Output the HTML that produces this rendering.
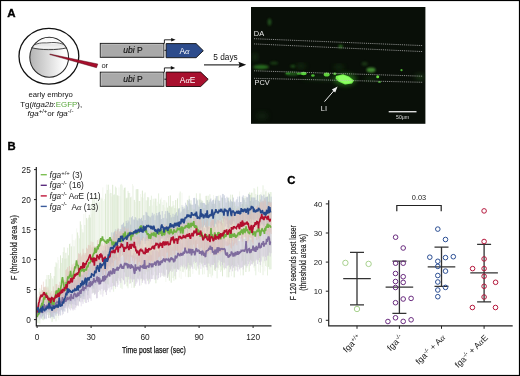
<!DOCTYPE html>
<html><head><meta charset="utf-8"><style>
html,body{margin:0;padding:0;background:#fff;}
body{width:520px;height:376px;overflow:hidden;}
svg{display:block;font-family:"Liberation Sans", sans-serif;will-change:transform;}
</style></head><body>
<svg width="520" height="376" viewBox="0 0 520 376" font-family='"Liberation Sans", sans-serif' fill="#222">
<rect x="0" y="0" width="520" height="376" fill="#fff"/>
<rect x="0.5" y="0.5" width="519" height="375" fill="none" stroke="#000" stroke-width="1.2"/>
<text x="7.2" y="17.4" font-size="11.5" font-weight="bold" fill="#000" stroke="#000" stroke-width="0.35">A</text>
<text x="7.4" y="150.3" font-size="11.3" font-weight="bold" fill="#000" stroke="#000" stroke-width="0.35">B</text>
<text x="287.2" y="183.9" font-size="11.3" font-weight="bold" fill="#000" stroke="#000" stroke-width="0.35">C</text>
<defs><linearGradient id="yolk" x1="0" x2="1" y1="0" y2="0"><stop offset="0" stop-color="#b4b4b4"/><stop offset="0.85" stop-color="#fbfbfb"/><stop offset="1" stop-color="#ffffff"/></linearGradient><linearGradient id="cap" gradientUnits="userSpaceOnUse" x1="0" x2="0" y1="37" y2="50"><stop offset="0" stop-color="#f4f4f4"/><stop offset="0.45" stop-color="#fdfdfd"/><stop offset="0.6" stop-color="#e4e4e4"/><stop offset="0.8" stop-color="#f2f2f2"/><stop offset="1" stop-color="#d6d6d6"/></linearGradient></defs>
<ellipse cx="48.9" cy="56.3" rx="29.9" ry="27.9" fill="#fff" stroke="#111" stroke-width="1.3"/>
<clipPath id="cellc"><ellipse cx="49.2" cy="57.3" rx="19.4" ry="20"/></clipPath>
<ellipse cx="49.2" cy="57.3" rx="19.4" ry="20" fill="url(#yolk)"/>
<g clip-path="url(#cellc)"><path d="M20 30H80V47.8C70 48 66 48 66.8 47.8C57 50.2 40 50.2 31.6 47.6H20Z" fill="url(#cap)"/></g>
<path d="M34.6 44.6C38 43.4 41 42.8 44 42.9C48 43.1 50 42.4 54 42.5C58 42.6 61 43.4 63.6 44.4" fill="none" stroke="#3a3a3a" stroke-width="0.85"/>
<path d="M31.4 47.6C40 50.3 57 50.3 66.9 47.8" fill="none" stroke="#3a3a3a" stroke-width="0.95"/>
<ellipse cx="49.2" cy="57.3" rx="19.4" ry="20" fill="none" stroke="#2a2a2a" stroke-width="1.05"/>
<path d="M49.8 54.0 L97.8 64.0 L96.5 67.7 L49.9 54.6 Z" fill="#a80d2c" stroke="#4a0610" stroke-width="0.45" stroke-linejoin="round"/>
<text x="50.6" y="97" text-anchor="middle" font-size="7.7" fill="#111">early embryo</text>
<text x="51.2" y="107" text-anchor="middle" font-size="7.9" fill="#111">Tg(<tspan font-style="italic">itga2b</tspan>:<tspan fill="#5aa83c">EGFP</tspan>),</text>
<text x="50.5" y="115.8" text-anchor="middle" font-size="8" fill="#111"><tspan font-style="italic">fga</tspan><tspan font-size="6" dy="-3">+/+</tspan><tspan dy="3">or </tspan><tspan font-style="italic">fga</tspan><tspan font-size="6" dy="-3">-/-</tspan></text>
<rect x="100.3" y="43.4" width="63.5" height="13.9" fill="#a9a9a9" stroke="#1e1e1e" stroke-width="1"/>
<path d="M101.3 56.7V44.4H162.8V56.7" fill="none" stroke="#bcbcbc" stroke-width="0.9"/>
<text x="123.2" y="53.2" font-size="8.5" fill="#111" stroke="#111" stroke-width="0.15"><tspan font-style="italic">ubi</tspan> P</text>
<path d="M164.4 50.3H166.5" stroke="#111" stroke-width="1"/>
<rect x="100.3" y="72.2" width="63.5" height="14.1" fill="#a9a9a9" stroke="#1e1e1e" stroke-width="1"/>
<path d="M101.3 85.7V73.2H162.8V85.7" fill="none" stroke="#bcbcbc" stroke-width="0.9"/>
<text x="123.2" y="82.2" font-size="8.5" fill="#111" stroke="#111" stroke-width="0.15"><tspan font-style="italic">ubi</tspan> P</text>
<path d="M164.4 79.2H166.5" stroke="#111" stroke-width="1"/>
<path d="M166.1 43.6H196.1L203.3 50.7L196.1 57.7H166.1Z" fill="#2d4c8c" stroke="#111" stroke-width="0.9"/>
<path d="M166.1 72.1H200.7L208.2 79.3L200.7 86.5H166.1Z" fill="#a8102e" stroke="#1a0508" stroke-width="0.9"/>
<text x="179.4" y="53.6" font-size="8.4" fill="#fff">A<tspan font-family="Liberation Serif" font-style="italic">&#945;</tspan></text>
<text x="179.8" y="82.5" font-size="8.4" fill="#fff">A<tspan font-family="Liberation Serif" font-style="italic">&#945;</tspan>E</text>
<path d="M164.4 43.5V39.8H172" fill="none" stroke="#111" stroke-width="0.9"/><path d="M171.2 37.9L175.6 39.8L171.2 41.6Z" fill="#111"/>
<path d="M164.4 72.2V67.9H171.6" fill="none" stroke="#111" stroke-width="0.9"/><path d="M170.8 66.1L175.2 67.9L170.8 69.7Z" fill="#111"/>
<text x="101.4" y="67.6" font-size="7.6" fill="#222">or</text>
<text x="213.3" y="60.0" font-size="8.3" fill="#111">5 days</text>
<path d="M204 64.8H240" stroke="#333" stroke-width="1.3"/><path d="M238.4 61.8L246.2 64.8L238.4 67.8L239.6 64.8Z" fill="#111"/>
<defs><filter id="b1" x="-50%" y="-50%" width="200%" height="200%"><feGaussianBlur stdDeviation="1.2"/></filter><filter id="b2" x="-50%" y="-50%" width="200%" height="200%"><feGaussianBlur stdDeviation="2.5"/></filter><filter id="b05" x="-50%" y="-50%" width="200%" height="200%"><feGaussianBlur stdDeviation="0.6"/></filter><clipPath id="mc"><rect x="251" y="7" width="174.4" height="116.8"/></clipPath></defs>
<rect x="251" y="7" width="174.4" height="116.8" fill="#090f08"/>
<g clip-path="url(#mc)">
<ellipse cx="269.5" cy="22" rx="1.8" ry="3.5" fill="#2f6a25" opacity="0.7" filter="url(#b1)"/>
<ellipse cx="255" cy="57" rx="2.5" ry="4" fill="#1e4a18" opacity="0.6" filter="url(#b2)"/>
<ellipse cx="261" cy="67" rx="8" ry="2.2" fill="#2f7a24" opacity="0.85" filter="url(#b1)"/>
<ellipse cx="292.8" cy="66.2" rx="2.5" ry="1.5" fill="#2a6a20" opacity="0.7" filter="url(#b1)"/>
<ellipse cx="274" cy="63" rx="4" ry="1.6" fill="#245a1c" opacity="0.6" filter="url(#b1)"/>
<ellipse cx="300.8" cy="66" rx="5" ry="2" fill="#1f4a18" opacity="0.6" filter="url(#b2)"/>
<ellipse cx="338.8" cy="67.1" rx="5" ry="2" fill="#1f4a18" opacity="0.6" filter="url(#b2)"/>
<ellipse cx="371" cy="70" rx="4.5" ry="2.4" fill="#4a9a38" opacity="0.9" filter="url(#b1)"/>
<ellipse cx="364.6" cy="63.7" rx="3" ry="2" fill="#2a5a22" opacity="0.5" filter="url(#b1)"/>
<ellipse cx="292" cy="73.8" rx="7" ry="1.8" fill="#2a7a20" opacity="0.7" filter="url(#b1)"/>
<ellipse cx="340.6" cy="46.4" rx="2.2" ry="1.6" fill="#3a8a2a" opacity="0.8" filter="url(#b1)"/>
<ellipse cx="262" cy="116" rx="6" ry="4" fill="#143014" opacity="0.5" filter="url(#b2)"/>
<ellipse cx="420" cy="77" rx="5" ry="3" fill="#2a5a20" opacity="0.5" filter="url(#b2)"/>
<ellipse cx="330" cy="78" rx="28" ry="3" fill="#143a12" opacity="0.5" filter="url(#b2)"/>
<ellipse cx="372" cy="79" rx="8" ry="2" fill="#1a4a15" opacity="0.5" filter="url(#b2)"/>
<ellipse cx="303.6" cy="73.5" rx="3" ry="1.7" fill="#56d23a" filter="url(#b05)"/>
<ellipse cx="299" cy="73.6" rx="2.5" ry="1.2" fill="#3a9a2a" filter="url(#b05)"/>
<ellipse cx="312.9" cy="75.5" rx="1.8" ry="1.2" fill="#48b830" filter="url(#b05)"/>
<ellipse cx="326.7" cy="74.6" rx="3" ry="2" fill="#5ed23a" filter="url(#b05)"/>
<ellipse cx="334.8" cy="73.7" rx="1.5" ry="1.3" fill="#50c034" filter="url(#b05)"/>
<ellipse cx="377.7" cy="76.7" rx="1.5" ry="1.5" fill="#66dd40" filter="url(#b05)"/>
<ellipse cx="379.5" cy="82" rx="1.6" ry="1.1" fill="#3c9a2a" filter="url(#b05)"/>
<ellipse cx="401.5" cy="70.2" rx="1.1" ry="1.1" fill="#4cb030" filter="url(#b05)"/>
<ellipse cx="288" cy="73.5" rx="2.5" ry="1" fill="#2a7a20" filter="url(#b05)"/>
<ellipse cx="345" cy="79.5" rx="11" ry="6" fill="#3fbf28" opacity="0.45" filter="url(#b2)"/>
<path d="M336 76L343 74.2L349 76.5L354 80.5L352 83.5L345 84.6L338.5 81.5L335.5 78.5Z" fill="#74f04c" filter="url(#b05)"/>
<path d="M337.5 76.6L343.5 75.2L349 77.6L352.5 80.8L350.5 82.8L345 83.6L339.5 80.8Z" fill="#8cff62" filter="url(#b05)"/>
<path d="M254 38.7L423 45.6" stroke="#b8b8b8" stroke-width="0.9" stroke-dasharray="1 0.9" opacity="0.85"/>
<path d="M254 43.9L423 51.6" stroke="#b8b8b8" stroke-width="0.9" stroke-dasharray="1 0.9" opacity="0.85"/>
<path d="M254 70.8L423 76.2" stroke="#b8b8b8" stroke-width="0.9" stroke-dasharray="1 0.9" opacity="0.85"/>
<path d="M254 78.3L423 82.3" stroke="#b8b8b8" stroke-width="0.9" stroke-dasharray="1 0.9" opacity="0.85"/>
</g>
<text x="253.8" y="36.1" font-size="7.4" fill="#e8e8e8">DA</text>
<text x="254.5" y="84.8" font-size="7.4" fill="#e8e8e8">PCV</text>
<text x="320.8" y="110.5" font-size="7.4" fill="#e8e8e8">LI</text>
<path d="M324.5 101.6L334.5 90" stroke="#eee" stroke-width="1"/><path d="M337.6 86.6L331.8 89.6L335.2 92.4Z" fill="#eee"/>
<path d="M388.7 111.7H416.5" stroke="#ddd" stroke-width="1.4"/>
<text x="402.6" y="118.6" text-anchor="middle" font-size="5.2" fill="#ddd">50&#956;m</text>
<path d="M37.1 293.6V322.1M38.9 290.7V312.4M40.7 289.5V315.1M45.2 291.2V310.8M51.5 275.9V322.1M53.3 279.3V319.3M57.8 257.2V317.9M58.7 260.0V319.6M59.6 268.4V303.2M70.4 243.4V305.1M72.2 234.1V299.6M73.1 240.0V295.7M74.9 240.3V301.3M75.8 238.5V306.9M76.7 228.4V300.5M78.5 235.5V305.4M82.1 229.0V297.9M83.9 214.0V291.1M85.7 212.0V285.3M87.5 219.6V286.3M92.0 213.8V286.1M93.8 208.0V283.5M95.6 202.4V292.1M96.5 194.8V289.1M97.4 201.1V293.1M98.3 194.9V279.3M100.1 198.5V294.4M101.0 197.2V280.6M102.8 187.4V282.0M103.7 200.8V293.8M104.6 199.1V282.5M106.4 184.5V291.8M109.1 193.7V286.7M110.0 189.4V276.9M111.8 196.6V275.3M119.0 187.4V276.1M119.9 196.0V284.5M121.7 183.8V288.9M122.6 185.5V289.2M123.5 189.8V280.9M129.8 193.1V274.9M131.6 196.5V287.9M132.5 184.0V279.2M133.4 185.7V287.8M135.2 202.0V276.9M138.8 201.0V281.3M140.6 194.0V280.2M141.5 197.1V285.2M143.3 197.8V273.8M144.2 193.8V279.9M146.0 200.4V278.6M152.3 205.5V276.0M154.1 201.7V266.9M157.7 201.8V267.4M161.3 197.7V276.6M162.2 201.8V269.2M164.9 207.4V268.9M165.8 200.3V282.0M176.6 208.3V267.4M179.3 193.3V277.6M181.1 207.1V279.0M182.0 192.8V267.5M183.8 205.2V272.4M185.6 209.3V276.6M186.5 208.2V266.3M192.8 204.1V273.9M195.5 204.7V270.1M197.3 199.3V263.5M198.2 204.9V267.9M200.9 198.5V265.5M204.5 208.1V274.2M205.4 196.1V266.8M209.0 200.6V271.4M210.8 205.9V276.6M211.7 203.4V277.8M213.5 195.0V261.8M216.2 204.8V263.3M218.9 194.8V270.0M225.2 205.7V264.3M226.1 200.0V262.7M227.9 201.5V262.0M231.5 206.0V276.2M236.0 204.4V260.4M239.6 191.5V268.3M240.5 204.9V275.3M241.4 204.1V262.5M244.1 201.9V264.8M248.6 193.0V271.9M254.9 188.8V271.1M256.7 195.9V260.5M258.5 201.3V271.8M261.2 192.2V260.2M262.1 201.6V267.0M263.9 194.2V263.3M264.8 189.1V271.4M266.6 190.7V267.0" stroke="#d3e4c6" stroke-width="1.0" opacity="0.28" fill="none"/>
<path d="M38.0 298.3V323.0M46.1 279.4V313.6M48.8 275.0V318.1M49.7 279.0V315.1M50.6 273.0V316.9M54.2 276.0V312.7M55.1 266.8V305.2M60.5 255.4V306.8M62.3 258.1V300.4M64.1 247.4V300.9M65.0 258.7V299.9M65.9 252.8V305.8M68.6 255.3V306.1M69.5 243.9V304.0M71.3 246.4V308.1M77.6 232.5V298.7M80.3 221.3V297.9M83.0 232.4V296.2M86.6 218.0V290.9M89.3 214.8V288.4M90.2 217.5V283.4M92.9 198.2V292.7M105.5 193.7V283.5M108.2 184.7V284.6M110.9 193.0V276.2M112.7 184.8V283.1M117.2 195.2V283.1M118.1 195.8V278.0M124.4 187.8V272.3M126.2 198.3V277.4M127.1 197.7V286.3M128.9 192.9V279.5M130.7 197.3V283.2M134.3 199.9V287.7M137.0 189.0V269.7M137.9 189.1V277.9M139.7 201.0V275.5M142.4 190.6V280.7M147.8 197.1V281.1M155.9 198.7V283.3M167.6 207.6V277.9M169.4 205.9V280.7M170.3 195.4V270.6M171.2 207.3V282.7M172.1 206.4V266.3M174.8 208.1V269.4M175.7 200.0V279.4M177.5 198.4V269.2M182.9 209.3V271.9M187.4 199.9V268.4M188.3 209.9V277.2M190.1 204.3V276.9M191.0 200.3V265.9M199.1 199.4V274.7M200.0 193.4V262.6M201.8 200.2V264.1M206.3 195.8V263.5M207.2 200.2V267.5M208.1 195.7V277.1M214.4 209.1V270.1M215.3 198.4V271.0M218.0 196.1V268.2M222.5 197.6V276.3M223.4 207.4V262.7M224.3 210.7V269.6M228.8 197.5V277.3M229.7 207.9V267.1M232.4 194.7V265.1M234.2 202.4V277.4M242.3 204.1V260.7M243.2 198.0V275.4M245.9 204.4V272.0M250.4 194.8V259.7M251.3 192.7V260.8M253.1 201.3V263.0M259.4 194.9V262.1M268.4 192.6V266.9" stroke="#d3e4c6" stroke-width="1.0" opacity="0.80" fill="none"/>
<path d="M39.8 288.1V323.7M41.6 301.8V311.0M42.5 290.4V319.8M43.4 287.3V320.3M44.3 288.3V319.5M47.0 275.0V310.2M47.9 286.4V314.8M52.4 278.4V321.8M56.0 262.3V321.3M56.9 263.3V303.7M61.4 262.9V308.6M63.2 252.0V310.4M66.8 258.4V298.4M67.7 247.8V311.7M74.0 246.3V298.2M79.4 238.3V301.1M81.2 224.7V299.2M84.8 225.0V301.9M88.4 217.7V295.5M91.1 204.0V285.2M94.7 197.8V294.0M99.2 202.1V281.8M101.9 198.5V281.2M107.3 190.0V283.9M113.6 194.8V291.7M114.5 194.4V274.3M115.4 186.5V288.9M116.3 187.7V281.0M120.8 184.6V287.9M125.3 187.5V283.8M128.0 190.9V288.3M136.1 189.5V281.3M145.1 192.5V274.4M146.9 200.4V271.9M148.7 197.4V271.5M149.6 206.2V283.4M150.5 199.9V269.6M151.4 195.7V274.6M153.2 198.8V268.2M155.0 198.6V271.6M156.8 205.8V267.5M158.6 193.4V275.0M159.5 203.8V266.1M160.4 199.5V267.0M163.1 205.0V275.4M164.0 200.0V276.5M166.7 202.5V269.3M168.5 196.0V276.6M173.0 201.0V278.0M173.9 205.3V280.7M178.4 208.1V269.6M180.2 191.5V271.1M184.7 206.3V269.5M189.2 195.7V270.8M191.9 208.5V266.8M193.7 209.4V264.3M194.6 209.4V268.6M196.4 193.3V270.5M202.7 201.1V274.5M203.6 208.1V262.8M209.9 194.2V273.9M212.6 204.0V275.5M217.1 210.3V278.4M219.8 203.2V264.9M220.7 210.4V272.0M221.6 209.0V270.4M227.0 209.0V277.3M230.6 194.6V269.7M233.3 208.1V267.1M235.1 206.1V266.2M236.9 208.1V270.1M237.8 206.3V263.3M238.7 206.7V267.1M245.0 196.0V265.0M246.8 197.9V268.1M247.7 204.6V260.9M249.5 192.3V271.4M252.2 192.7V264.5M254.0 188.2V267.6M255.8 194.1V275.3M257.6 186.7V259.9M260.3 194.0V272.8M263.0 185.3V275.2M265.7 191.3V266.0M267.5 196.3V275.5M269.3 194.7V269.3M270.2 192.0V269.4M271.1 192.1V269.3" stroke="#d3e4c6" stroke-width="1.0" opacity="0.56" fill="none"/>
<path d="M37.1 302.4V315.6M38.0 308.2V318.4M43.4 299.4V315.5M49.7 297.3V312.9M51.5 301.2V316.7M52.4 296.1V316.9M57.8 294.5V310.9M58.7 297.6V315.8M59.6 293.6V311.6M60.5 296.9V315.5M63.2 294.1V314.0M65.9 283.3V305.8M67.7 280.5V301.6M68.6 278.6V304.2M70.4 279.3V303.9M76.7 279.4V298.4M77.6 271.9V300.2M85.7 268.0V290.7M87.5 264.5V295.1M89.3 266.7V287.1M92.0 265.6V289.3M93.8 257.9V288.8M96.5 256.1V279.4M97.4 260.1V283.3M98.3 259.7V282.7M101.0 252.4V275.9M101.9 255.3V274.5M104.6 250.0V271.6M105.5 246.4V277.3M106.4 250.6V274.6M107.3 244.0V268.0M115.4 229.3V254.7M118.1 228.3V252.4M119.0 229.1V257.8M125.3 226.1V246.2M128.0 220.2V245.9M129.8 217.4V250.6M132.5 216.1V243.8M133.4 219.5V242.9M136.1 217.8V245.4M144.2 215.1V241.0M149.6 216.8V238.6M150.5 217.3V240.1M151.4 215.7V244.3M155.0 220.1V245.0M155.9 215.4V243.6M164.0 217.8V243.3M164.9 214.1V241.4M166.7 218.3V240.0M168.5 212.6V240.5M170.3 215.0V241.3M172.1 216.7V238.1M180.2 213.2V235.0M182.0 205.1V236.4M184.7 208.3V233.8M185.6 202.7V229.5M188.3 200.8V226.6M190.1 203.2V230.5M191.9 204.8V224.0M192.8 205.0V225.8M196.4 198.4V230.8M198.2 205.5V232.6M200.0 199.8V231.0M201.8 201.7V227.5M209.9 199.7V226.3M217.1 195.9V227.3M218.0 199.9V221.4M220.7 195.4V223.5M221.6 197.6V225.4M222.5 193.9V218.4M223.4 194.0V221.7M229.7 202.3V223.7M234.2 201.3V222.5M235.1 202.2V227.6M236.0 200.5V225.3M237.8 196.7V222.5M238.7 202.2V226.2M241.4 202.0V224.8M245.0 198.1V225.9M245.9 201.9V223.3M252.2 197.7V219.4M255.8 200.0V225.3M256.7 199.8V218.8M258.5 200.9V226.0M260.3 199.5V226.0M265.7 196.8V220.2M270.2 201.5V225.6" stroke="#a4afc6" stroke-width="1.0" opacity="0.41" fill="none"/>
<path d="M38.9 302.8V315.5M39.8 303.5V314.9M42.5 301.7V316.5M44.3 301.7V318.6M47.0 298.3V312.7M48.8 299.1V311.6M54.2 298.3V318.9M55.1 297.4V313.3M56.9 293.5V313.7M62.3 290.7V311.6M65.0 288.5V308.0M71.3 282.2V302.2M72.2 281.0V303.8M73.1 280.1V299.4M74.0 279.7V304.5M74.9 275.8V301.2M78.5 273.7V295.6M82.1 274.4V292.3M83.0 274.9V299.0M86.6 271.9V289.7M88.4 269.0V291.0M90.2 260.6V285.2M94.7 261.4V282.0M109.1 241.9V263.2M110.9 241.9V264.5M111.8 232.4V262.5M112.7 239.4V262.8M116.3 234.1V259.6M117.2 229.7V251.7M119.9 231.5V254.4M120.8 229.0V252.4M121.7 224.8V249.5M122.6 224.4V255.0M123.5 222.7V250.3M126.2 220.9V247.3M134.3 219.6V245.5M135.2 217.0V239.1M141.5 217.8V240.1M142.4 220.7V240.7M143.3 215.3V238.3M145.1 220.0V243.8M146.0 211.9V241.0M146.9 212.6V238.8M147.8 215.3V240.4M152.3 212.8V239.8M153.2 215.4V244.5M154.1 213.9V241.6M156.8 213.0V237.8M158.6 212.5V244.2M162.2 211.1V238.6M165.8 211.1V242.2M171.2 217.5V241.3M173.0 213.8V235.8M173.9 216.9V235.9M175.7 213.4V239.4M176.6 212.1V234.5M179.3 208.2V240.1M181.1 211.6V233.6M182.9 206.9V236.3M183.8 208.7V231.6M195.5 203.8V226.8M197.3 200.4V225.8M199.1 206.9V230.1M200.9 202.7V228.7M203.6 202.9V226.7M205.4 204.6V226.9M206.3 204.9V227.5M209.0 201.9V225.8M212.6 200.3V225.5M214.4 203.7V226.9M215.3 200.4V223.7M228.8 200.8V228.5M232.4 201.8V224.0M233.3 197.6V221.3M236.9 199.2V225.0M239.6 196.4V225.2M240.5 202.0V221.0M243.2 195.3V224.2M246.8 196.7V219.4M248.6 194.0V220.8M249.5 194.7V222.2M253.1 197.3V219.8M254.0 197.7V223.4M254.9 197.5V219.7M257.6 194.8V221.0M259.4 202.2V220.8M263.0 201.0V225.5M264.8 197.8V226.1M267.5 196.7V224.5M269.3 193.9V222.9M271.1 196.7V219.0" stroke="#a4afc6" stroke-width="1.0" opacity="0.55" fill="none"/>
<path d="M40.7 307.5V316.7M41.6 300.0V318.6M45.2 306.2V313.3M46.1 301.5V319.1M47.9 295.7V312.1M50.6 301.3V318.3M53.3 300.0V317.2M56.0 292.6V315.8M61.4 290.7V310.1M64.1 288.8V311.4M66.8 278.2V303.7M69.5 275.7V302.3M75.8 279.8V305.0M79.4 274.0V301.5M80.3 272.5V298.0M81.2 275.2V297.5M83.9 268.9V296.4M84.8 269.6V293.3M91.1 262.3V286.8M92.9 262.2V287.4M95.6 257.7V284.9M99.2 259.3V283.5M100.1 258.6V282.6M102.8 250.4V276.4M103.7 251.3V275.0M108.2 246.3V266.1M110.0 238.2V267.3M113.6 232.5V258.1M114.5 231.5V258.8M124.4 226.5V251.9M127.1 222.9V246.1M128.9 221.4V246.4M130.7 224.6V244.3M131.6 217.4V243.4M137.0 219.8V239.1M137.9 220.7V245.8M138.8 218.5V243.7M139.7 218.3V246.1M140.6 219.2V244.3M148.7 216.0V240.8M157.7 215.4V244.8M159.5 211.9V244.7M160.4 214.7V244.4M161.3 219.1V238.5M163.1 218.1V237.2M167.6 210.9V237.8M169.4 212.8V237.3M174.8 214.8V240.1M177.5 215.6V239.8M178.4 209.3V233.0M186.5 204.8V229.6M187.4 206.4V233.0M189.2 199.3V226.8M191.0 204.6V230.2M193.7 198.0V223.6M194.6 197.8V225.1M202.7 203.0V232.0M204.5 203.2V225.3M207.2 200.1V230.9M208.1 203.6V229.3M210.8 198.5V229.6M211.7 201.5V230.3M213.5 199.6V227.6M216.2 196.2V224.4M218.9 200.9V223.4M219.8 200.8V220.0M224.3 195.3V218.8M225.2 198.2V226.5M226.1 202.5V220.3M227.0 196.8V224.1M227.9 198.1V227.3M230.6 199.5V225.2M231.5 201.3V225.1M242.3 196.7V226.6M244.1 199.7V227.2M247.7 197.3V225.8M250.4 200.9V219.2M251.3 197.4V223.0M261.2 194.8V224.6M262.1 196.1V223.8M263.9 194.7V226.8M266.6 196.9V227.1M268.4 201.6V223.9" stroke="#a4afc6" stroke-width="1.0" opacity="0.55" fill="none"/>
<path d="M37.1 309.3V317.7M42.5 298.5V312.9M43.4 301.2V314.2M44.3 297.8V318.7M47.0 299.4V314.9M47.9 298.8V310.7M50.6 300.6V313.2M52.4 299.4V315.8M59.6 291.4V314.3M60.5 293.6V310.3M61.4 293.0V308.8M62.3 294.1V315.2M69.5 287.2V308.9M70.4 288.2V310.4M74.9 285.2V310.1M78.5 280.4V306.2M80.3 279.2V302.4M81.2 279.4V306.3M86.6 272.3V303.0M90.2 273.1V298.7M91.1 274.1V301.0M92.0 271.0V293.7M92.9 271.2V293.4M99.2 264.8V290.1M101.0 269.2V294.6M102.8 265.1V296.6M108.2 260.7V288.5M109.1 261.8V288.2M110.0 257.8V292.2M112.7 254.0V286.4M119.0 251.9V279.4M121.7 257.1V278.0M122.6 256.6V279.4M125.3 251.4V276.4M127.1 249.3V282.2M128.9 254.7V276.7M131.6 255.3V279.5M136.1 253.7V283.9M140.6 254.3V278.7M146.0 253.0V284.4M146.9 249.6V278.7M150.5 254.6V281.6M154.1 249.3V279.2M155.0 247.0V280.0M159.5 245.0V272.9M162.2 244.5V275.9M165.8 241.8V276.5M170.3 240.6V271.1M171.2 243.3V269.2M173.0 244.4V270.6M174.8 240.8V276.2M177.5 241.1V269.2M179.3 241.7V269.4M182.9 235.7V266.9M183.8 234.2V264.7M184.7 239.2V268.1M185.6 238.9V266.5M187.4 240.9V266.8M191.9 233.3V267.3M192.8 236.6V269.0M193.7 232.5V262.3M194.6 236.5V261.4M197.3 235.4V266.4M198.2 233.7V268.7M200.0 233.5V262.3M200.9 235.0V268.9M202.7 234.9V266.4M203.6 239.2V267.6M209.9 240.0V266.0M217.1 234.7V267.3M223.4 238.1V267.6M229.7 236.4V272.1M236.9 238.7V267.0M240.5 236.5V267.7M246.8 235.8V266.5M247.7 240.1V265.9M249.5 235.4V261.8M251.3 239.6V264.1M254.0 230.6V261.6M255.8 230.1V260.6M262.1 226.9V255.8" stroke="#c9bfd6" stroke-width="1.0" opacity="0.45" fill="none"/>
<path d="M38.0 307.5V316.5M38.9 305.4V314.5M40.7 307.2V318.4M41.6 302.9V313.2M46.1 299.5V318.2M48.8 300.3V318.0M51.5 295.4V316.6M53.3 297.2V312.9M54.2 296.8V312.1M55.1 293.6V314.8M56.9 294.6V309.9M63.2 287.0V309.6M65.9 289.1V307.3M67.7 284.5V313.1M68.6 290.4V307.6M72.2 285.6V309.3M77.6 280.0V305.4M83.9 273.4V299.5M85.7 277.0V302.9M87.5 275.0V299.7M93.8 271.1V292.8M95.6 268.0V293.7M96.5 270.5V298.3M97.4 266.9V298.2M104.6 265.3V289.8M105.5 262.1V292.2M106.4 262.1V295.0M107.3 264.2V290.4M114.5 258.5V285.8M115.4 254.3V287.0M118.1 257.5V284.8M123.5 252.1V280.1M128.0 248.1V277.0M132.5 255.2V282.1M133.4 253.1V279.5M134.3 256.2V279.2M137.0 257.0V282.5M138.8 253.9V279.5M141.5 251.2V278.8M142.4 251.2V282.9M143.3 255.1V279.5M144.2 249.1V280.6M147.8 255.1V279.9M148.7 256.0V284.2M153.2 250.7V275.2M155.9 251.2V279.2M160.4 249.9V277.3M161.3 247.6V272.8M163.1 244.4V273.5M164.0 244.3V276.7M169.4 241.3V272.3M172.1 247.0V271.9M173.9 244.2V268.7M176.6 240.2V271.9M181.1 238.1V265.2M182.0 243.3V266.3M189.2 238.2V265.0M190.1 235.6V268.5M195.5 240.4V263.0M201.8 234.4V262.8M205.4 239.6V264.9M207.2 236.2V270.2M208.1 233.5V263.3M213.5 236.9V265.0M214.4 235.7V263.2M218.0 235.0V262.5M218.9 235.0V259.9M220.7 236.3V266.4M225.2 238.6V268.0M226.1 241.1V268.5M227.0 242.2V265.7M228.8 242.7V265.2M231.5 236.4V266.4M233.3 242.6V268.1M235.1 237.2V270.6M237.8 234.7V271.5M241.4 234.2V267.8M243.2 238.5V269.5M244.1 239.0V264.9M245.0 238.7V265.9M245.9 233.4V264.1M248.6 235.0V264.1M252.2 236.4V264.2M253.1 232.3V261.4M256.7 229.7V259.6M259.4 229.8V258.0M264.8 226.1V261.2M266.6 223.7V260.4M267.5 229.6V255.7M269.3 226.1V252.6M270.2 226.3V256.5M271.1 226.1V253.2" stroke="#c9bfd6" stroke-width="1.0" opacity="0.60" fill="none"/>
<path d="M39.8 300.4V319.6M45.2 304.5V313.4M49.7 299.8V311.6M56.0 290.4V308.6M57.8 290.9V313.4M58.7 290.6V315.7M64.1 288.8V307.6M65.0 292.5V311.6M66.8 291.7V308.6M71.3 282.4V305.4M73.1 284.1V310.5M74.0 282.6V308.9M75.8 281.6V307.8M76.7 285.3V305.9M79.4 282.0V301.0M82.1 280.3V301.7M83.0 275.9V303.8M84.8 276.7V299.2M88.4 270.4V302.1M89.3 271.2V298.2M94.7 268.5V295.0M98.3 264.7V292.0M100.1 265.4V290.6M101.9 268.5V289.1M103.7 268.6V290.7M110.9 254.5V286.9M111.8 258.5V289.5M113.6 260.2V285.8M116.3 255.7V281.2M117.2 257.1V286.8M119.9 249.8V281.1M120.8 251.1V282.9M124.4 252.5V284.5M126.2 248.2V276.9M129.8 250.6V283.7M130.7 249.5V278.5M135.2 253.5V285.9M137.9 254.3V279.0M139.7 253.1V285.7M145.1 249.7V283.5M149.6 249.9V279.2M151.4 255.2V279.1M152.3 250.7V279.0M156.8 250.1V275.3M157.7 250.9V279.6M158.6 252.2V278.1M164.9 246.0V274.9M166.7 246.7V269.8M167.6 242.0V277.8M168.5 243.4V274.3M175.7 244.0V268.5M178.4 240.4V269.8M180.2 239.3V267.2M186.5 239.1V269.5M188.3 236.1V262.9M191.0 237.1V265.0M196.4 239.6V262.1M199.1 236.2V264.9M204.5 238.0V265.0M206.3 240.4V267.2M209.0 237.2V263.6M210.8 233.1V267.4M211.7 239.8V264.8M212.6 240.1V265.0M215.3 239.0V268.8M216.2 238.9V267.5M219.8 231.9V260.7M221.6 235.9V262.0M222.5 237.5V265.0M224.3 238.9V262.7M227.9 239.5V265.6M230.6 243.3V268.7M232.4 240.0V271.3M234.2 236.8V266.1M236.0 237.7V266.4M238.7 240.7V264.9M239.6 241.1V269.4M242.3 235.0V267.0M250.4 239.7V265.7M254.9 237.4V265.9M257.6 230.3V264.0M258.5 231.8V260.4M260.3 235.4V265.1M261.2 229.4V261.5M263.0 227.1V257.2M263.9 231.2V255.8M265.7 230.0V257.0M268.4 228.2V255.7" stroke="#c9bfd6" stroke-width="1.0" opacity="0.60" fill="none"/>
<path d="M37.1 305.6V318.3M45.2 286.5V303.1M50.6 292.6V305.2M56.9 284.1V309.8M57.8 288.9V308.5M61.4 285.1V301.6M64.1 279.8V303.6M65.9 270.1V300.7M68.6 271.5V292.3M69.5 266.0V290.1M71.3 267.3V288.9M76.7 262.8V286.4M80.3 252.8V283.9M81.2 256.5V278.5M83.0 248.8V277.4M84.8 254.7V274.2M87.5 248.7V274.3M88.4 244.9V271.5M95.6 246.7V273.1M96.5 247.2V273.7M99.2 239.4V268.4M103.7 245.6V270.3M104.6 240.7V270.3M106.4 240.9V269.9M110.0 242.8V265.9M118.1 228.7V265.6M119.0 233.6V260.9M119.9 231.3V263.9M125.3 227.8V263.0M127.1 229.1V260.8M130.7 230.0V256.4M137.9 236.6V266.7M138.8 234.5V262.4M139.7 237.4V261.7M143.3 236.7V265.7M146.0 237.6V269.6M146.9 234.5V269.3M149.6 234.1V260.5M150.5 231.2V266.2M158.6 229.2V257.5M159.5 231.8V256.7M163.1 230.2V256.5M168.5 227.0V260.0M174.8 225.1V255.1M175.7 227.8V250.4M179.3 225.4V255.7M181.1 223.7V252.8M185.6 224.0V249.5M190.1 220.7V250.6M192.8 223.3V250.8M193.7 214.9V244.6M197.3 222.5V244.0M198.2 217.9V247.7M200.0 216.5V252.5M200.9 219.1V248.1M202.7 226.8V250.0M204.5 227.6V256.8M209.0 226.6V250.8M209.9 226.3V251.5M210.8 221.8V254.3M212.6 219.9V252.7M218.0 220.3V254.0M221.6 220.2V251.9M227.0 214.4V246.2M228.8 220.6V245.4M231.5 215.2V248.6M233.3 212.1V246.1M241.4 214.3V238.4M248.6 209.6V240.6M251.3 207.5V238.1M252.2 209.8V242.0M260.3 202.6V231.8M266.6 205.6V234.6M269.3 202.1V236.9M271.1 202.2V234.0" stroke="#dfbdb2" stroke-width="1.0" opacity="0.60" fill="none"/>
<path d="M38.0 297.1V309.5M40.7 291.5V302.7M43.4 281.6V298.4M47.0 291.5V307.6M47.9 287.5V306.3M48.8 289.9V305.1M49.7 292.5V310.5M51.5 291.1V304.9M52.4 294.3V312.1M55.1 293.0V305.6M59.6 281.8V301.3M60.5 286.1V306.7M62.3 278.3V299.0M73.1 267.6V288.9M89.3 245.5V271.7M91.1 241.5V276.2M94.7 246.1V273.9M98.3 245.2V267.6M101.0 241.0V268.2M101.9 244.6V270.4M102.8 243.3V275.1M105.5 244.3V275.3M108.2 242.9V269.1M109.1 239.4V271.3M110.9 239.7V271.9M111.8 238.7V268.9M112.7 236.1V265.7M114.5 237.4V261.0M116.3 231.7V266.6M117.2 230.8V264.8M121.7 232.6V256.2M122.6 227.4V256.5M123.5 231.5V256.6M124.4 231.9V262.0M126.2 235.5V259.5M128.0 227.8V256.3M131.6 230.0V257.3M132.5 230.6V260.8M135.2 230.5V260.7M142.4 238.2V263.1M144.2 241.0V266.1M145.1 237.7V264.5M147.8 233.2V260.8M154.1 230.3V260.9M155.0 232.3V261.8M155.9 234.8V259.7M157.7 230.8V263.7M160.4 232.4V262.1M161.3 231.9V259.6M162.2 228.1V256.0M164.0 228.4V260.8M167.6 225.2V252.4M170.3 227.9V255.4M171.2 224.9V255.4M172.1 229.6V258.6M173.0 226.9V251.0M176.6 228.6V250.8M178.4 221.4V254.7M180.2 225.1V255.4M183.8 223.4V249.2M184.7 217.5V253.3M186.5 221.1V252.0M188.3 220.0V249.1M191.0 215.8V244.9M194.6 218.0V247.9M199.1 220.4V249.4M201.8 222.4V247.3M203.6 220.3V250.9M205.4 222.5V250.7M206.3 226.7V252.4M215.3 227.1V249.6M216.2 221.9V251.7M217.1 219.9V255.3M219.8 219.5V254.2M222.5 223.1V250.9M223.4 216.8V251.3M224.3 217.5V252.3M225.2 216.0V245.2M226.1 218.3V246.0M230.6 219.1V247.7M232.4 212.6V240.9M234.2 212.7V244.4M235.1 212.7V243.6M236.0 212.3V242.6M238.7 211.1V239.9M240.5 210.8V235.9M243.2 212.7V238.5M246.8 209.3V241.7M249.5 209.0V236.8M254.0 211.6V236.5M257.6 205.1V233.3M259.4 205.9V237.2M263.0 200.4V228.0M263.9 202.4V230.2M265.7 201.1V231.8M267.5 205.5V234.3M268.4 202.2V231.9" stroke="#dfbdb2" stroke-width="1.0" opacity="0.45" fill="none"/>
<path d="M38.9 299.9V311.0M39.8 292.2V307.5M41.6 284.8V304.1M42.5 290.2V303.1M44.3 287.0V303.2M46.1 287.3V304.9M53.3 286.4V307.3M54.2 291.0V311.4M56.0 284.1V311.9M58.7 285.1V305.3M63.2 280.2V305.0M65.0 280.0V297.1M66.8 269.1V298.6M67.7 267.2V293.0M70.4 270.8V291.6M72.2 264.5V291.1M74.0 263.4V290.7M74.9 266.7V292.5M75.8 262.6V289.2M77.6 258.8V284.6M78.5 253.3V282.3M79.4 254.1V284.6M82.1 254.6V276.9M83.9 252.9V281.4M85.7 252.9V276.5M86.6 247.7V279.5M90.2 245.2V269.0M92.0 247.3V271.5M92.9 242.1V275.0M93.8 246.6V273.8M97.4 240.1V269.8M100.1 244.9V271.7M107.3 244.5V271.0M113.6 234.2V267.1M115.4 231.0V259.5M120.8 230.6V256.8M128.9 234.7V263.2M129.8 232.1V263.2M133.4 234.8V258.1M134.3 234.7V263.4M136.1 236.6V259.2M137.0 236.6V264.4M140.6 241.2V269.4M141.5 239.4V266.6M148.7 238.0V266.1M151.4 230.6V260.9M152.3 231.9V262.5M153.2 231.6V264.8M156.8 227.6V263.3M164.9 224.4V260.3M165.8 231.0V260.1M166.7 227.2V252.7M169.4 227.2V256.9M173.9 223.3V254.5M177.5 224.9V251.6M182.0 222.7V250.3M182.9 225.7V248.5M187.4 224.5V249.6M189.2 221.7V252.3M191.9 223.3V250.8M195.5 219.2V251.5M196.4 215.3V251.5M207.2 220.5V253.6M208.1 226.6V253.4M211.7 220.1V249.4M213.5 219.8V255.6M214.4 226.4V252.5M218.9 220.6V252.0M220.7 221.8V252.5M227.9 217.3V245.6M229.7 220.1V244.2M236.9 213.7V245.2M237.8 209.2V238.1M239.6 214.6V238.5M242.3 212.7V241.7M244.1 208.8V236.9M245.0 211.9V237.6M245.9 212.4V236.5M247.7 214.3V243.0M250.4 213.9V237.5M253.1 213.7V243.8M254.9 211.7V235.3M255.8 208.2V236.8M256.7 206.0V240.2M258.5 210.1V238.7M261.2 201.5V229.8M262.1 202.5V228.1M264.8 199.4V230.7M270.2 202.9V232.4" stroke="#dfbdb2" stroke-width="1.0" opacity="0.60" fill="none"/>
<polyline points="37.10,313.35 37.64,312.01 38.18,314.86 38.72,310.26 39.26,309.91 39.80,312.62 40.34,310.38 40.88,310.82 41.42,311.43 41.96,311.27 42.50,312.90 43.04,306.09 43.58,308.59 44.12,304.02 44.66,307.08 45.20,308.02 45.74,309.17 46.28,305.24 46.82,308.46 47.36,304.49 47.90,307.62 48.44,306.84 48.98,309.41 49.52,301.90 50.06,305.73 50.60,306.04 51.14,302.72 51.68,305.51 52.22,302.39 52.76,305.99 53.30,302.59 53.84,305.90 54.38,307.89 54.92,305.96 55.46,307.02 56.00,302.37 56.54,303.16 57.08,301.86 57.62,302.53 58.16,302.94 58.70,303.01 59.24,301.18 59.78,302.29 60.32,302.73 60.86,303.29 61.40,301.72 61.94,301.95 62.48,297.19 63.02,302.70 63.56,302.63 64.10,300.82 64.64,298.80 65.18,300.42 65.72,301.54 66.26,300.45 66.80,299.07 67.34,296.82 67.88,300.14 68.42,297.89 68.96,298.79 69.50,297.25 70.04,297.23 70.58,300.71 71.12,294.01 71.66,297.40 72.20,298.02 72.74,298.00 73.28,298.92 73.82,294.68 74.36,293.71 74.90,294.55 75.44,293.48 75.98,297.13 76.52,295.92 77.06,295.99 77.60,293.50 78.14,292.66 78.68,296.00 79.22,293.21 79.76,291.32 80.30,290.36 80.84,293.78 81.38,289.86 81.92,289.60 82.46,290.15 83.00,285.85 83.54,290.98 84.08,289.21 84.62,287.18 85.16,287.78 85.70,288.09 86.24,285.30 86.78,285.03 87.32,285.89 87.86,285.14 88.40,286.37 88.94,284.39 89.48,281.83 90.02,287.19 90.56,281.07 91.10,285.36 91.64,283.87 92.18,284.30 92.72,281.18 93.26,283.35 93.80,278.14 94.34,280.59 94.88,280.83 95.42,282.49 95.96,280.26 96.50,280.91 97.04,276.53 97.58,278.20 98.12,282.10 98.66,277.13 99.20,284.51 99.74,278.34 100.28,284.05 100.82,281.01 101.36,281.77 101.90,279.88 102.44,280.93 102.98,276.12 103.52,281.37 104.06,280.61 104.60,275.41 105.14,279.95 105.68,278.23 106.22,276.16 106.76,277.60 107.30,275.55 107.84,274.59 108.38,273.66 108.92,271.53 109.46,276.53 110.00,272.42 110.54,270.58 111.08,273.10 111.62,273.55 112.16,274.06 112.70,270.55 113.24,268.23 113.78,270.15 114.32,273.83 114.86,271.08 115.40,268.91 115.94,269.65 116.48,270.28 117.02,267.70 117.56,266.87 118.10,270.64 118.64,267.20 119.18,268.56 119.72,267.11 120.26,265.40 120.80,263.91 121.34,265.99 121.88,268.63 122.42,267.88 122.96,265.99 123.50,268.81 124.04,265.92 124.58,263.57 125.12,263.02 125.66,265.20 126.20,263.87 126.74,263.10 127.28,265.24 127.82,268.43 128.36,264.62 128.90,264.78 129.44,266.35 129.98,265.87 130.52,268.90 131.06,264.37 131.60,265.72 132.14,267.59 132.68,266.43 133.22,267.05 133.76,269.40 134.30,273.06 134.84,273.50 135.38,264.34 135.92,270.82 136.46,268.65 137.00,267.28 137.54,269.07 138.08,266.72 138.62,269.70 139.16,267.06 139.70,271.30 140.24,266.04 140.78,266.06 141.32,266.49 141.86,266.76 142.40,267.22 142.94,265.42 143.48,265.07 144.02,268.93 144.56,259.99 145.10,268.72 145.64,267.13 146.18,267.64 146.72,265.64 147.26,267.01 147.80,265.40 148.34,266.44 148.88,267.54 149.42,263.85 149.96,264.24 150.50,264.45 151.04,263.86 151.58,267.29 152.12,263.25 152.66,267.12 153.20,263.83 153.74,264.62 154.28,263.36 154.82,262.62 155.36,263.65 155.90,265.76 156.44,261.78 156.98,261.28 157.52,261.87 158.06,260.65 158.60,265.59 159.14,261.97 159.68,261.91 160.22,265.23 160.76,261.60 161.30,261.26 161.84,262.86 162.38,262.01 162.92,260.05 163.46,259.10 164.00,258.60 164.54,261.07 165.08,261.43 165.62,259.67 166.16,258.64 166.70,259.63 167.24,259.81 167.78,260.01 168.32,258.95 168.86,259.56 169.40,262.06 169.94,260.76 170.48,258.72 171.02,258.17 171.56,257.35 172.10,260.09 172.64,258.47 173.18,259.25 173.72,262.41 174.26,259.29 174.80,261.41 175.34,255.63 175.88,257.12 176.42,258.32 176.96,256.88 177.50,255.45 178.04,253.02 178.58,255.23 179.12,254.02 179.66,256.13 180.20,254.43 180.74,253.66 181.28,254.01 181.82,255.67 182.36,252.92 182.90,255.34 183.44,251.51 183.98,253.57 184.52,252.94 185.06,247.65 185.60,251.81 186.14,250.85 186.68,252.62 187.22,252.65 187.76,252.33 188.30,252.75 188.84,248.50 189.38,252.76 189.92,253.27 190.46,249.01 191.00,249.80 191.54,255.41 192.08,251.98 192.62,249.13 193.16,252.66 193.70,252.02 194.24,251.72 194.78,255.28 195.32,253.09 195.86,249.65 196.40,248.06 196.94,250.84 197.48,251.23 198.02,249.68 198.56,250.38 199.10,250.48 199.64,253.84 200.18,251.99 200.72,251.91 201.26,251.86 201.80,255.38 202.34,250.48 202.88,252.41 203.42,252.41 203.96,255.90 204.50,252.78 205.04,255.90 205.58,257.02 206.12,251.20 206.66,250.81 207.20,250.69 207.74,250.32 208.28,250.12 208.82,248.80 209.36,249.49 209.90,247.76 210.44,245.78 210.98,249.09 211.52,249.35 212.06,246.99 212.60,252.01 213.14,252.13 213.68,251.85 214.22,254.48 214.76,251.04 215.30,249.56 215.84,254.07 216.38,252.97 216.92,249.31 217.46,247.26 218.00,252.71 218.54,247.63 219.08,248.08 219.62,251.05 220.16,249.00 220.70,249.38 221.24,248.61 221.78,248.79 222.32,249.26 222.86,248.78 223.40,249.21 223.94,249.00 224.48,248.76 225.02,249.59 225.56,254.00 226.10,254.77 226.64,255.05 227.18,252.42 227.72,254.99 228.26,257.13 228.80,257.01 229.34,256.36 229.88,254.10 230.42,255.92 230.96,253.96 231.50,251.44 232.04,254.24 232.58,252.53 233.12,256.58 233.66,253.60 234.20,254.23 234.74,256.35 235.28,251.85 235.82,254.31 236.36,254.57 236.90,253.81 237.44,251.20 237.98,254.76 238.52,251.69 239.06,254.20 239.60,251.37 240.14,252.81 240.68,251.92 241.22,250.49 241.76,251.01 242.30,250.71 242.84,250.32 243.38,250.70 243.92,250.08 244.46,251.82 245.00,249.91 245.54,248.96 246.08,241.10 246.62,248.96 247.16,253.12 247.70,250.40 248.24,249.84 248.78,248.92 249.32,248.72 249.86,253.24 250.40,249.47 250.94,252.66 251.48,249.39 252.02,250.04 252.56,249.55 253.10,245.65 253.64,249.99 254.18,250.60 254.72,249.59 255.26,247.23 255.80,251.93 256.34,245.83 256.88,249.63 257.42,249.32 257.96,247.50 258.50,247.15 259.04,242.77 259.58,245.33 260.12,248.24 260.66,247.19 261.20,247.02 261.74,243.52 262.28,243.55 262.82,244.79 263.36,241.20 263.90,246.58 264.44,244.14 264.98,243.93 265.52,243.07 266.06,244.45 266.60,238.87 267.14,241.67 267.68,239.57 268.22,237.17 268.76,237.00 269.30,238.47 269.84,244.97 270.38,242.20 270.92,242.16" fill="none" stroke="#7f6c9e" stroke-width="1.65" stroke-linejoin="miter" stroke-miterlimit="2"/>
<polyline points="37.10,316.94 37.64,315.31 38.18,314.48 38.72,312.07 39.26,314.21 39.80,310.23 40.34,310.42 40.88,306.26 41.42,305.37 41.96,303.00 42.50,306.03 43.04,302.78 43.58,299.59 44.12,296.67 44.66,299.53 45.20,296.48 45.74,296.13 46.28,292.52 46.82,296.14 47.36,297.03 47.90,297.17 48.44,299.09 48.98,303.68 49.52,300.98 50.06,301.82 50.60,302.50 51.14,301.95 51.68,300.93 52.22,304.59 52.76,298.59 53.30,302.67 53.84,304.79 54.38,300.30 54.92,295.72 55.46,296.76 56.00,291.88 56.54,290.47 57.08,293.03 57.62,293.73 58.16,291.33 58.70,288.00 59.24,293.10 59.78,295.04 60.32,292.62 60.86,287.27 61.40,284.69 61.94,280.39 62.48,277.17 63.02,281.33 63.56,282.55 64.10,287.24 64.64,287.21 65.18,290.77 65.72,289.16 66.26,281.88 66.80,284.04 67.34,281.38 67.88,276.33 68.42,277.96 68.96,277.99 69.50,275.72 70.04,275.95 70.58,270.78 71.12,276.07 71.66,275.41 72.20,280.15 72.74,276.90 73.28,274.76 73.82,271.37 74.36,270.23 74.90,266.35 75.44,268.45 75.98,265.45 76.52,260.37 77.06,264.58 77.60,265.17 78.14,265.54 78.68,269.71 79.22,273.96 79.76,276.63 80.30,267.97 80.84,271.07 81.38,268.98 81.92,271.47 82.46,266.99 83.00,269.47 83.54,270.43 84.08,271.85 84.62,269.16 85.16,270.34 85.70,268.87 86.24,270.62 86.78,267.76 87.32,265.63 87.86,267.34 88.40,264.45 88.94,262.13 89.48,263.04 90.02,262.79 90.56,261.56 91.10,257.50 91.64,261.54 92.18,257.84 92.72,256.69 93.26,254.42 93.80,253.49 94.34,253.89 94.88,247.77 95.42,250.54 95.96,252.80 96.50,251.33 97.04,248.67 97.58,246.17 98.12,249.36 98.66,244.27 99.20,246.57 99.74,244.91 100.28,241.32 100.82,238.10 101.36,240.58 101.90,240.29 102.44,236.45 102.98,240.23 103.52,239.24 104.06,240.83 104.60,241.53 105.14,241.51 105.68,242.19 106.22,240.85 106.76,243.82 107.30,239.31 107.84,241.45 108.38,241.87 108.92,240.38 109.46,238.82 110.00,237.24 110.54,240.83 111.08,240.10 111.62,241.20 112.16,244.69 112.70,244.51 113.24,241.54 113.78,243.27 114.32,246.81 114.86,243.88 115.40,241.66 115.94,244.96 116.48,242.69 117.02,244.82 117.56,241.42 118.10,240.81 118.64,240.39 119.18,238.08 119.72,241.01 120.26,240.46 120.80,236.47 121.34,242.25 121.88,238.17 122.42,241.16 122.96,237.55 123.50,233.46 124.04,235.81 124.58,237.23 125.12,231.69 125.66,236.62 126.20,236.54 126.74,235.94 127.28,238.67 127.82,234.21 128.36,232.76 128.90,233.72 129.44,234.36 129.98,235.18 130.52,232.86 131.06,240.44 131.60,234.55 132.14,232.90 132.68,236.58 133.22,231.78 133.76,232.92 134.30,232.38 134.84,232.55 135.38,232.10 135.92,231.78 136.46,234.22 137.00,232.80 137.54,232.68 138.08,231.18 138.62,232.94 139.16,229.65 139.70,228.24 140.24,226.70 140.78,226.03 141.32,226.00 141.86,229.39 142.40,229.49 142.94,228.07 143.48,228.51 144.02,229.99 144.56,228.26 145.10,227.98 145.64,232.35 146.18,229.59 146.72,232.43 147.26,234.04 147.80,233.94 148.34,234.02 148.88,238.69 149.42,235.64 149.96,234.29 150.50,238.78 151.04,236.46 151.58,232.77 152.12,234.91 152.66,234.75 153.20,235.12 153.74,232.38 154.28,233.36 154.82,235.13 155.36,236.41 155.90,236.54 156.44,230.91 156.98,232.41 157.52,229.73 158.06,231.47 158.60,234.94 159.14,231.22 159.68,229.65 160.22,233.33 160.76,232.87 161.30,229.32 161.84,235.87 162.38,234.81 162.92,231.31 163.46,232.80 164.00,234.56 164.54,235.19 165.08,231.77 165.62,229.73 166.16,230.20 166.70,230.93 167.24,229.01 167.78,231.15 168.32,233.35 168.86,228.36 169.40,234.35 169.94,232.70 170.48,232.27 171.02,228.93 171.56,233.06 172.10,231.64 172.64,233.65 173.18,233.39 173.72,230.10 174.26,229.58 174.80,232.38 175.34,231.15 175.88,232.35 176.42,231.27 176.96,230.58 177.50,227.76 178.04,229.82 178.58,228.69 179.12,230.27 179.66,227.54 180.20,229.40 180.74,233.51 181.28,226.29 181.82,230.11 182.36,226.67 182.90,233.70 183.44,227.22 183.98,228.55 184.52,227.64 185.06,228.36 185.60,225.42 186.14,226.79 186.68,225.28 187.22,227.56 187.76,226.68 188.30,222.89 188.84,228.53 189.38,227.22 189.92,226.31 190.46,222.91 191.00,227.31 191.54,224.35 192.08,222.79 192.62,225.67 193.16,225.13 193.70,221.17 194.24,226.32 194.78,227.55 195.32,225.20 195.86,228.28 196.40,225.78 196.94,227.97 197.48,232.56 198.02,229.71 198.56,230.82 199.10,233.54 199.64,230.51 200.18,236.67 200.72,235.42 201.26,234.53 201.80,232.34 202.34,237.25 202.88,235.79 203.42,236.50 203.96,238.29 204.50,236.58 205.04,237.67 205.58,235.90 206.12,234.39 206.66,235.80 207.20,235.92 207.74,236.56 208.28,236.87 208.82,237.86 209.36,237.43 209.90,234.16 210.44,235.74 210.98,227.98 211.52,235.36 212.06,234.11 212.60,238.37 213.14,236.14 213.68,236.86 214.22,235.82 214.76,232.36 215.30,234.47 215.84,236.62 216.38,234.40 216.92,236.37 217.46,235.93 218.00,232.29 218.54,232.98 219.08,232.91 219.62,234.32 220.16,235.12 220.70,239.38 221.24,236.31 221.78,236.12 222.32,234.30 222.86,234.13 223.40,234.80 223.94,238.27 224.48,234.10 225.02,234.56 225.56,236.96 226.10,235.91 226.64,234.16 227.18,233.44 227.72,233.48 228.26,232.15 228.80,233.19 229.34,232.99 229.88,237.13 230.42,237.07 230.96,231.30 231.50,237.75 232.04,234.30 232.58,234.71 233.12,235.15 233.66,236.80 234.20,233.46 234.74,234.49 235.28,236.05 235.82,237.83 236.36,235.40 236.90,235.48 237.44,236.32 237.98,233.28 238.52,233.04 239.06,232.58 239.60,234.29 240.14,234.98 240.68,231.70 241.22,231.97 241.76,229.33 242.30,231.32 242.84,234.41 243.38,231.05 243.92,228.35 244.46,231.73 245.00,232.37 245.54,231.52 246.08,226.46 246.62,229.98 247.16,229.91 247.70,229.37 248.24,233.05 248.78,231.94 249.32,234.18 249.86,232.15 250.40,231.05 250.94,230.10 251.48,232.59 252.02,230.46 252.56,233.24 253.10,235.23 253.64,231.48 254.18,232.41 254.72,231.97 255.26,236.66 255.80,232.12 256.34,232.08 256.88,231.22 257.42,229.69 257.96,232.06 258.50,227.42 259.04,229.31 259.58,230.55 260.12,235.87 260.66,234.65 261.20,231.15 261.74,229.77 262.28,228.32 262.82,230.87 263.36,231.31 263.90,230.24 264.44,233.83 264.98,227.73 265.52,230.81 266.06,226.99 266.60,227.10 267.14,225.08 267.68,223.70 268.22,227.80 268.76,224.65 269.30,226.04 269.84,225.25 270.38,226.76 270.92,227.68" fill="none" stroke="#6fb143" stroke-width="1.65" stroke-linejoin="miter" stroke-miterlimit="2"/>
<polyline points="37.10,312.37 37.64,309.28 38.18,307.02 38.72,302.92 39.26,301.77 39.80,298.99 40.34,296.96 40.88,295.67 41.42,294.76 41.96,296.43 42.50,296.01 43.04,294.65 43.58,292.99 44.12,292.36 44.66,294.04 45.20,295.41 45.74,293.83 46.28,297.85 46.82,296.06 47.36,296.19 47.90,298.86 48.44,299.61 48.98,300.37 49.52,297.98 50.06,298.77 50.60,303.11 51.14,300.62 51.68,297.64 52.22,297.89 52.76,298.66 53.30,299.60 53.84,301.92 54.38,297.63 54.92,298.17 55.46,297.67 56.00,294.43 56.54,297.05 57.08,296.78 57.62,295.67 58.16,292.98 58.70,296.69 59.24,296.05 59.78,292.73 60.32,291.95 60.86,293.70 61.40,289.80 61.94,290.65 62.48,293.02 63.02,288.73 63.56,289.43 64.10,291.32 64.64,287.19 65.18,287.95 65.72,287.11 66.26,284.02 66.80,289.45 67.34,285.14 67.88,282.71 68.42,281.03 68.96,282.61 69.50,282.94 70.04,282.47 70.58,279.87 71.12,278.01 71.66,281.01 72.20,282.42 72.74,278.61 73.28,277.97 73.82,278.76 74.36,275.27 74.90,274.00 75.44,275.70 75.98,275.14 76.52,273.01 77.06,273.97 77.60,274.79 78.14,272.27 78.68,272.81 79.22,269.00 79.76,269.40 80.30,268.90 80.84,266.42 81.38,266.92 81.92,267.44 82.46,268.55 83.00,262.52 83.54,263.34 84.08,267.78 84.62,266.94 85.16,263.18 85.70,265.13 86.24,263.32 86.78,261.42 87.32,261.17 87.86,259.91 88.40,259.17 88.94,257.59 89.48,256.07 90.02,254.46 90.56,257.15 91.10,259.71 91.64,257.94 92.18,259.31 92.72,262.36 93.26,259.32 93.80,257.40 94.34,265.67 94.88,257.85 95.42,259.82 95.96,259.29 96.50,261.06 97.04,254.79 97.58,257.32 98.12,256.02 98.66,257.60 99.20,259.42 99.74,254.08 100.28,257.67 100.82,253.24 101.36,257.45 101.90,254.50 102.44,259.57 102.98,261.88 103.52,257.64 104.06,258.66 104.60,259.07 105.14,256.59 105.68,259.43 106.22,258.82 106.76,258.84 107.30,259.07 107.84,259.35 108.38,257.83 108.92,257.61 109.46,256.07 110.00,256.31 110.54,252.94 111.08,251.32 111.62,252.52 112.16,250.61 112.70,253.02 113.24,251.01 113.78,249.89 114.32,252.04 114.86,253.24 115.40,249.96 115.94,249.44 116.48,246.60 117.02,249.41 117.56,245.22 118.10,252.39 118.64,247.63 119.18,247.52 119.72,247.14 120.26,247.23 120.80,246.44 121.34,243.35 121.88,246.20 122.42,244.21 122.96,247.38 123.50,246.91 124.04,251.99 124.58,248.63 125.12,246.98 125.66,248.96 126.20,247.79 126.74,248.22 127.28,242.00 127.82,246.93 128.36,246.92 128.90,250.02 129.44,247.89 129.98,244.03 130.52,246.44 131.06,248.78 131.60,244.87 132.14,244.03 132.68,245.23 133.22,245.68 133.76,247.59 134.30,241.77 134.84,248.09 135.38,246.39 135.92,250.53 136.46,250.48 137.00,253.30 137.54,250.57 138.08,252.44 138.62,253.30 139.16,255.49 139.70,250.37 140.24,249.93 140.78,249.46 141.32,251.40 141.86,250.29 142.40,250.34 142.94,251.68 143.48,253.21 144.02,252.76 144.56,252.21 145.10,254.16 145.64,247.51 146.18,252.76 146.72,250.92 147.26,249.23 147.80,252.37 148.34,250.77 148.88,248.07 149.42,249.57 149.96,249.58 150.50,249.05 151.04,249.13 151.58,248.38 152.12,247.18 152.66,247.58 153.20,245.68 153.74,248.14 154.28,249.25 154.82,245.80 155.36,245.49 155.90,243.89 156.44,244.50 156.98,243.54 157.52,244.09 158.06,244.16 158.60,248.32 159.14,246.79 159.68,245.89 160.22,242.62 160.76,245.73 161.30,243.19 161.84,244.36 162.38,247.99 162.92,242.31 163.46,242.36 164.00,241.52 164.54,245.60 165.08,242.35 165.62,242.13 166.16,245.05 166.70,241.58 167.24,243.33 167.78,241.38 168.32,245.13 168.86,244.44 169.40,243.53 169.94,244.97 170.48,241.92 171.02,239.48 171.56,237.29 172.10,240.25 172.64,238.95 173.18,236.45 173.72,241.66 174.26,243.41 174.80,239.08 175.34,239.59 175.88,240.26 176.42,238.46 176.96,239.34 177.50,243.86 178.04,239.51 178.58,239.42 179.12,235.95 179.66,237.23 180.20,236.03 180.74,237.87 181.28,237.70 181.82,238.33 182.36,237.47 182.90,237.27 183.44,235.00 183.98,238.15 184.52,235.81 185.06,237.23 185.60,237.62 186.14,235.04 186.68,236.97 187.22,233.94 187.76,236.08 188.30,236.10 188.84,235.35 189.38,233.10 189.92,236.95 190.46,238.77 191.00,235.80 191.54,235.21 192.08,232.98 192.62,234.44 193.16,236.45 193.70,232.12 194.24,230.60 194.78,232.69 195.32,232.48 195.86,231.72 196.40,228.42 196.94,234.83 197.48,234.64 198.02,234.07 198.56,232.71 199.10,234.83 199.64,233.35 200.18,232.94 200.72,230.56 201.26,235.10 201.80,235.26 202.34,236.19 202.88,239.64 203.42,239.65 203.96,237.58 204.50,238.49 205.04,233.73 205.58,236.06 206.12,237.05 206.66,236.26 207.20,239.38 207.74,239.89 208.28,239.93 208.82,238.98 209.36,234.43 209.90,241.99 210.44,238.98 210.98,237.81 211.52,236.15 212.06,237.47 212.60,237.48 213.14,241.00 213.68,240.49 214.22,238.70 214.76,237.71 215.30,234.48 215.84,239.77 216.38,236.12 216.92,238.09 217.46,236.30 218.00,238.39 218.54,238.65 219.08,234.01 219.62,235.14 220.16,238.29 220.70,233.21 221.24,236.56 221.78,234.57 222.32,234.09 222.86,236.32 223.40,231.85 223.94,234.10 224.48,230.04 225.02,231.91 225.56,231.53 226.10,231.70 226.64,229.31 227.18,234.55 227.72,233.56 228.26,233.70 228.80,230.63 229.34,229.95 229.88,231.14 230.42,230.97 230.96,233.75 231.50,227.09 232.04,229.34 232.58,228.24 233.12,228.48 233.66,226.21 234.20,227.96 234.74,227.12 235.28,227.63 235.82,227.93 236.36,228.46 236.90,226.39 237.44,226.08 237.98,224.79 238.52,223.75 239.06,228.07 239.60,228.44 240.14,225.49 240.68,221.90 241.22,223.13 241.76,226.89 242.30,220.56 242.84,222.29 243.38,226.00 243.92,224.48 244.46,222.72 245.00,224.04 245.54,223.81 246.08,223.09 246.62,223.52 247.16,221.54 247.70,224.89 248.24,222.93 248.78,226.80 249.32,228.75 249.86,230.36 250.40,228.52 250.94,226.50 251.48,225.17 252.02,233.03 252.56,230.32 253.10,228.04 253.64,225.00 254.18,226.78 254.72,225.12 255.26,222.09 255.80,224.93 256.34,224.05 256.88,221.61 257.42,221.74 257.96,222.29 258.50,228.47 259.04,221.59 259.58,222.10 260.12,219.17 260.66,217.90 261.20,218.49 261.74,214.13 262.28,219.26 262.82,216.71 263.36,217.68 263.90,220.00 264.44,217.49 264.98,216.88 265.52,216.38 266.06,217.94 266.60,216.81 267.14,219.56 267.68,216.62 268.22,216.50 268.76,220.15 269.30,219.19 269.84,221.58 270.38,219.44 270.92,219.59" fill="none" stroke="#b3102f" stroke-width="1.65" stroke-linejoin="miter" stroke-miterlimit="2"/>
<polyline points="37.10,310.35 37.64,308.02 38.18,307.82 38.72,311.69 39.26,311.40 39.80,312.22 40.34,309.59 40.88,308.41 41.42,308.12 41.96,312.52 42.50,305.88 43.04,309.69 43.58,308.65 44.12,310.47 44.66,310.67 45.20,309.44 45.74,307.82 46.28,309.01 46.82,308.26 47.36,305.95 47.90,307.68 48.44,308.08 48.98,302.82 49.52,304.87 50.06,308.34 50.60,307.06 51.14,307.09 51.68,309.68 52.22,310.57 52.76,307.40 53.30,305.74 53.84,307.96 54.38,308.71 54.92,306.61 55.46,305.50 56.00,307.50 56.54,305.84 57.08,304.44 57.62,306.65 58.16,307.54 58.70,303.84 59.24,297.40 59.78,302.91 60.32,306.62 60.86,305.54 61.40,304.57 61.94,306.05 62.48,302.35 63.02,301.63 63.56,303.45 64.10,299.20 64.64,298.84 65.18,297.47 65.72,295.24 66.26,292.74 66.80,295.33 67.34,289.60 67.88,288.38 68.42,293.12 68.96,288.96 69.50,290.65 70.04,290.09 70.58,292.42 71.12,291.80 71.66,291.65 72.20,292.89 72.74,289.83 73.28,290.72 73.82,289.93 74.36,291.44 74.90,288.98 75.44,289.46 75.98,290.85 76.52,289.06 77.06,286.96 77.60,285.64 78.14,290.65 78.68,285.92 79.22,286.11 79.76,286.72 80.30,287.43 80.84,283.09 81.38,286.26 81.92,282.35 82.46,280.49 83.00,285.29 83.54,281.98 84.08,284.29 84.62,280.94 85.16,278.70 85.70,277.75 86.24,285.23 86.78,282.36 87.32,279.54 87.86,277.57 88.40,278.92 88.94,280.56 89.48,277.62 90.02,277.40 90.56,276.84 91.10,276.96 91.64,273.96 92.18,274.25 92.72,274.80 93.26,274.82 93.80,276.59 94.34,274.16 94.88,270.54 95.42,271.89 95.96,273.23 96.50,266.94 97.04,268.38 97.58,265.09 98.12,268.91 98.66,270.18 99.20,271.81 99.74,265.98 100.28,262.90 100.82,268.18 101.36,266.26 101.90,263.98 102.44,266.00 102.98,264.33 103.52,263.67 104.06,261.93 104.60,259.28 105.14,269.04 105.68,258.55 106.22,260.14 106.76,258.09 107.30,261.86 107.84,259.30 108.38,254.39 108.92,255.88 109.46,252.62 110.00,250.74 110.54,248.24 111.08,248.46 111.62,247.18 112.16,248.21 112.70,249.24 113.24,248.35 113.78,245.38 114.32,247.09 114.86,245.94 115.40,244.12 115.94,243.15 116.48,243.48 117.02,245.59 117.56,242.24 118.10,241.15 118.64,238.51 119.18,239.32 119.72,241.79 120.26,240.90 120.80,235.85 121.34,238.57 121.88,236.60 122.42,235.85 122.96,241.28 123.50,239.22 124.04,239.01 124.58,238.61 125.12,237.83 125.66,237.56 126.20,236.83 126.74,239.86 127.28,236.25 127.82,236.53 128.36,234.70 128.90,236.05 129.44,233.70 129.98,232.95 130.52,234.10 131.06,233.49 131.60,233.16 132.14,233.71 132.68,233.37 133.22,233.64 133.76,232.14 134.30,232.34 134.84,230.69 135.38,233.33 135.92,229.65 136.46,232.19 137.00,232.23 137.54,230.72 138.08,231.23 138.62,228.82 139.16,230.42 139.70,231.50 140.24,231.02 140.78,227.54 141.32,229.88 141.86,232.16 142.40,229.50 142.94,232.60 143.48,225.47 144.02,231.25 144.56,227.43 145.10,227.23 145.64,230.20 146.18,227.76 146.72,226.04 147.26,226.57 147.80,226.43 148.34,225.11 148.88,226.45 149.42,226.42 149.96,227.27 150.50,225.72 151.04,229.12 151.58,225.88 152.12,228.29 152.66,229.54 153.20,227.95 153.74,225.65 154.28,228.01 154.82,231.30 155.36,229.34 155.90,231.05 156.44,230.83 156.98,229.56 157.52,233.65 158.06,228.47 158.60,230.38 159.14,229.81 159.68,230.91 160.22,230.47 160.76,229.20 161.30,225.99 161.84,224.44 162.38,227.78 162.92,226.32 163.46,229.48 164.00,232.58 164.54,228.46 165.08,227.53 165.62,229.06 166.16,228.14 166.70,226.65 167.24,229.04 167.78,230.81 168.32,227.84 168.86,226.93 169.40,228.25 169.94,225.20 170.48,223.15 171.02,227.09 171.56,225.70 172.10,224.67 172.64,225.96 173.18,225.51 173.72,227.96 174.26,224.98 174.80,222.89 175.34,223.82 175.88,226.28 176.42,224.14 176.96,223.27 177.50,224.21 178.04,225.93 178.58,221.87 179.12,226.82 179.66,222.45 180.20,222.78 180.74,224.15 181.28,218.93 181.82,219.54 182.36,222.26 182.90,218.70 183.44,220.29 183.98,223.30 184.52,220.72 185.06,218.15 185.60,217.08 186.14,218.10 186.68,217.16 187.22,214.34 187.76,217.14 188.30,214.56 188.84,216.05 189.38,215.70 189.92,215.04 190.46,217.84 191.00,217.10 191.54,212.13 192.08,214.18 192.62,215.37 193.16,214.41 193.70,215.58 194.24,214.09 194.78,215.31 195.32,212.97 195.86,216.29 196.40,211.63 196.94,215.76 197.48,218.79 198.02,216.68 198.56,217.82 199.10,216.95 199.64,219.11 200.18,215.46 200.72,209.18 201.26,217.12 201.80,213.74 202.34,214.79 202.88,214.06 203.42,218.15 203.96,217.44 204.50,214.84 205.04,215.87 205.58,213.43 206.12,217.66 206.66,215.35 207.20,210.28 207.74,217.24 208.28,217.48 208.82,216.16 209.36,216.48 209.90,214.49 210.44,215.29 210.98,216.10 211.52,213.75 212.06,209.31 212.60,212.12 213.14,218.74 213.68,213.75 214.22,214.61 214.76,211.82 215.30,212.94 215.84,209.20 216.38,211.00 216.92,211.57 217.46,212.58 218.00,212.95 218.54,212.09 219.08,210.56 219.62,211.05 220.16,211.84 220.70,208.80 221.24,210.48 221.78,209.96 222.32,211.87 222.86,211.96 223.40,211.56 223.94,215.74 224.48,208.87 225.02,209.49 225.56,211.53 226.10,209.95 226.64,210.68 227.18,210.86 227.72,216.19 228.26,211.56 228.80,210.56 229.34,208.73 229.88,208.35 230.42,209.24 230.96,214.34 231.50,216.08 232.04,210.67 232.58,212.17 233.12,210.44 233.66,212.59 234.20,211.76 234.74,215.95 235.28,212.09 235.82,213.37 236.36,211.91 236.90,211.43 237.44,212.51 237.98,211.98 238.52,213.66 239.06,211.39 239.60,211.77 240.14,213.63 240.68,213.30 241.22,208.03 241.76,211.90 242.30,209.33 242.84,209.88 243.38,211.54 243.92,211.34 244.46,209.39 245.00,209.59 245.54,208.97 246.08,212.82 246.62,209.30 247.16,211.36 247.70,207.92 248.24,214.52 248.78,208.78 249.32,210.67 249.86,208.47 250.40,210.04 250.94,208.22 251.48,205.88 252.02,207.57 252.56,207.18 253.10,207.42 253.64,212.20 254.18,208.61 254.72,210.67 255.26,212.22 255.80,211.38 256.34,211.89 256.88,209.35 257.42,210.69 257.96,211.35 258.50,207.76 259.04,208.99 259.58,209.21 260.12,210.37 260.66,212.23 261.20,212.82 261.74,212.27 262.28,210.11 262.82,211.64 263.36,214.10 263.90,212.28 264.44,215.13 264.98,211.85 265.52,214.88 266.06,214.68 266.60,210.69 267.14,211.06 267.68,213.72 268.22,209.17 268.76,206.19 269.30,213.10 269.84,206.99 270.38,211.97 270.92,211.44" fill="none" stroke="#26488a" stroke-width="1.65" stroke-linejoin="miter" stroke-miterlimit="2"/>
<path d="M36.3 167V325.8H271.5" fill="none" stroke="#222" stroke-width="1.2"/>
<path d="M34 169.6H36.3" stroke="#222" stroke-width="1"/>
<text x="30.8" y="172.6" text-anchor="end" font-size="8.3">25</text>
<path d="M34 199.6H36.3" stroke="#222" stroke-width="1"/>
<text x="30.8" y="202.6" text-anchor="end" font-size="8.3">20</text>
<path d="M34 229.6H36.3" stroke="#222" stroke-width="1"/>
<text x="30.8" y="232.6" text-anchor="end" font-size="8.3">15</text>
<path d="M34 259.6H36.3" stroke="#222" stroke-width="1"/>
<text x="30.8" y="262.6" text-anchor="end" font-size="8.3">10</text>
<path d="M34 289.6H36.3" stroke="#222" stroke-width="1"/>
<text x="30.8" y="292.6" text-anchor="end" font-size="8.3">5</text>
<path d="M34 319.6H36.3" stroke="#222" stroke-width="1"/>
<text x="30.8" y="322.6" text-anchor="end" font-size="8.3">0</text>
<path d="M37.1 325.8V328" stroke="#222" stroke-width="1"/>
<text x="37.1" y="339.5" text-anchor="middle" font-size="8.3">0</text>
<path d="M91.1 325.8V328" stroke="#222" stroke-width="1"/>
<text x="91.1" y="339.5" text-anchor="middle" font-size="8.3">30</text>
<path d="M145.1 325.8V328" stroke="#222" stroke-width="1"/>
<text x="145.1" y="339.5" text-anchor="middle" font-size="8.3">60</text>
<path d="M199.1 325.8V328" stroke="#222" stroke-width="1"/>
<text x="199.1" y="339.5" text-anchor="middle" font-size="8.3">90</text>
<path d="M253.1 325.8V328" stroke="#222" stroke-width="1"/>
<text x="253.1" y="339.5" text-anchor="middle" font-size="8.3">120</text>
<text x="122" y="352.9" font-size="9" textLength="63.8" lengthAdjust="spacingAndGlyphs" fill="#111" stroke="#111" stroke-width="0.25">Time post laser (sec)</text>
<text transform="translate(16.5,247.6) rotate(-90)" text-anchor="middle" font-size="9" textLength="64.8" lengthAdjust="spacingAndGlyphs" fill="#222" stroke="#222" stroke-width="0.2">F (threshold area %)</text>
<path d="M40.7 174.7H46.8" stroke="#7cbf52" stroke-width="1.4"/>
<text x="49.6" y="177.8" font-size="8.3"><tspan font-style="italic">fga</tspan><tspan font-size="6" dy="-3.2">+/+</tspan><tspan dy="3.2"> (3)</tspan></text>
<path d="M40.7 185.3H46.8" stroke="#5b2d7e" stroke-width="1.4"/>
<text x="49.6" y="188.4" font-size="8.3"><tspan font-style="italic">fga</tspan><tspan font-size="6" dy="-3.2">-/-</tspan><tspan dy="3.2"> (16)</tspan></text>
<path d="M40.7 195.9H46.8" stroke="#c0173a" stroke-width="1.4"/>
<text x="49.6" y="199.0" font-size="8.3"><tspan font-style="italic">fga</tspan><tspan font-size="6" dy="-3.2">-/-</tspan><tspan dy="3.2"> A<tspan font-family="Liberation Serif" font-style="italic">&#945;</tspan>E (11)</tspan></text>
<path d="M40.7 206.4H46.8" stroke="#3b5b9c" stroke-width="1.4"/>
<text x="49.6" y="209.5" font-size="8.3"><tspan font-style="italic">fga</tspan><tspan font-size="6" dy="-3.2">-/-</tspan><tspan dy="3.2"> &#160;A<tspan font-family="Liberation Serif" font-style="italic">&#945;</tspan> (13)</tspan></text>
<path d="M328.7 200.2V325.8H512.7" fill="none" stroke="#222" stroke-width="1.2"/>
<path d="M325.8 320.3H328.7" stroke="#222" stroke-width="1"/>
<text x="322.4" y="323.1" text-anchor="end" font-size="7.8">0</text>
<path d="M325.8 291.2H328.7" stroke="#222" stroke-width="1"/>
<text x="322.4" y="294.0" text-anchor="end" font-size="7.8">10</text>
<path d="M325.8 262.1H328.7" stroke="#222" stroke-width="1"/>
<text x="322.4" y="264.9" text-anchor="end" font-size="7.8">20</text>
<path d="M325.8 233.0H328.7" stroke="#222" stroke-width="1"/>
<text x="322.4" y="235.8" text-anchor="end" font-size="7.8">30</text>
<path d="M325.8 203.9H328.7" stroke="#222" stroke-width="1"/>
<text x="322.4" y="206.7" text-anchor="end" font-size="7.8">40</text>
<path d="M357 325.8V328.8" stroke="#222" stroke-width="1"/>
<path d="M399.4 325.8V328.8" stroke="#222" stroke-width="1"/>
<path d="M441.5 325.8V328.8" stroke="#222" stroke-width="1"/>
<path d="M484.1 325.8V328.8" stroke="#222" stroke-width="1"/>
<text transform="translate(296.2,262.7) rotate(-90)" text-anchor="middle" font-size="9.8" textLength="75" lengthAdjust="spacingAndGlyphs" fill="#222" stroke="#222" stroke-width="0.2">F 120 seconds post laser</text>
<text transform="translate(306.2,262.4) rotate(-90)" text-anchor="middle" font-size="9.8" textLength="56.7" lengthAdjust="spacingAndGlyphs" fill="#222" stroke="#222" stroke-width="0.2">(threshold area %)</text>
<path d="M396.8 211.2V205.5H441.2V211.2" fill="none" stroke="#222" stroke-width="1.2"/>
<text x="419" y="200.4" text-anchor="middle" font-size="7.4">0.03</text>
<path d="M357 252.4V304.8M350 252.4H364M350 304.8H364M343.2 278.6H370.8" stroke="#333" stroke-width="1.3" fill="none"/>
<path d="M399.4 261.2V313.4M392.4 261.2H406.4M392.4 313.4H406.4M385.59999999999997 287.2H413.2" stroke="#333" stroke-width="1.3" fill="none"/>
<path d="M441.5 247.1V286.3M434.5 247.1H448.5M434.5 286.3H448.5M427.7 266.9H455.3" stroke="#333" stroke-width="1.3" fill="none"/>
<path d="M484.1 244.4V301.9M477.1 244.4H491.1M477.1 301.9H491.1M470.3 272.8H497.90000000000003" stroke="#333" stroke-width="1.3" fill="none"/>
<circle cx="345.4" cy="262.9" r="2.7" fill="none" stroke="#a3cf88" stroke-width="0.95"/>
<circle cx="368.6" cy="263.9" r="2.7" fill="none" stroke="#a3cf88" stroke-width="0.95"/>
<circle cx="357" cy="309" r="2.7" fill="none" stroke="#a3cf88" stroke-width="0.95"/>
<circle cx="395.6" cy="237.2" r="2.3" fill="none" stroke="#6a2c7f" stroke-width="1.0"/>
<circle cx="403.2" cy="248" r="2.3" fill="none" stroke="#6a2c7f" stroke-width="1.0"/>
<circle cx="395.6" cy="263.2" r="2.3" fill="none" stroke="#6a2c7f" stroke-width="1.0"/>
<circle cx="403.2" cy="263.2" r="2.3" fill="none" stroke="#6a2c7f" stroke-width="1.0"/>
<circle cx="395.5" cy="273.5" r="2.3" fill="none" stroke="#6a2c7f" stroke-width="1.0"/>
<circle cx="403.2" cy="276.7" r="2.3" fill="none" stroke="#6a2c7f" stroke-width="1.0"/>
<circle cx="395.5" cy="281.5" r="2.3" fill="none" stroke="#6a2c7f" stroke-width="1.0"/>
<circle cx="403.2" cy="282.4" r="2.3" fill="none" stroke="#6a2c7f" stroke-width="1.0"/>
<circle cx="395.5" cy="287.5" r="2.3" fill="none" stroke="#6a2c7f" stroke-width="1.0"/>
<circle cx="403.2" cy="299" r="2.3" fill="none" stroke="#6a2c7f" stroke-width="1.0"/>
<circle cx="411.1" cy="298.4" r="2.3" fill="none" stroke="#6a2c7f" stroke-width="1.0"/>
<circle cx="395.5" cy="302.7" r="2.3" fill="none" stroke="#6a2c7f" stroke-width="1.0"/>
<circle cx="387.9" cy="321.5" r="2.3" fill="none" stroke="#6a2c7f" stroke-width="1.0"/>
<circle cx="395.5" cy="317.8" r="2.3" fill="none" stroke="#6a2c7f" stroke-width="1.0"/>
<circle cx="403.2" cy="321.4" r="2.3" fill="none" stroke="#6a2c7f" stroke-width="1.0"/>
<circle cx="411.1" cy="319.8" r="2.3" fill="none" stroke="#6a2c7f" stroke-width="1.0"/>
<circle cx="437.8" cy="229.1" r="2.3" fill="none" stroke="#2c4f94" stroke-width="1.0"/>
<circle cx="445.5" cy="239.5" r="2.3" fill="none" stroke="#2c4f94" stroke-width="1.0"/>
<circle cx="429.8" cy="257.2" r="2.3" fill="none" stroke="#2c4f94" stroke-width="1.0"/>
<circle cx="445.5" cy="257.6" r="2.3" fill="none" stroke="#2c4f94" stroke-width="1.0"/>
<circle cx="453.3" cy="256.7" r="2.3" fill="none" stroke="#2c4f94" stroke-width="1.0"/>
<circle cx="437.8" cy="261.3" r="2.3" fill="none" stroke="#2c4f94" stroke-width="1.0"/>
<circle cx="437.8" cy="266.4" r="2.3" fill="none" stroke="#2c4f94" stroke-width="1.0"/>
<circle cx="445.5" cy="271.1" r="2.3" fill="none" stroke="#2c4f94" stroke-width="1.0"/>
<circle cx="437.8" cy="275.5" r="2.3" fill="none" stroke="#2c4f94" stroke-width="1.0"/>
<circle cx="437.8" cy="282" r="2.3" fill="none" stroke="#2c4f94" stroke-width="1.0"/>
<circle cx="445.5" cy="287.4" r="2.3" fill="none" stroke="#2c4f94" stroke-width="1.0"/>
<circle cx="437.8" cy="290" r="2.3" fill="none" stroke="#2c4f94" stroke-width="1.0"/>
<circle cx="437.8" cy="296.7" r="2.3" fill="none" stroke="#2c4f94" stroke-width="1.0"/>
<circle cx="484.1" cy="210.9" r="2.3" fill="none" stroke="#b5173c" stroke-width="1.0"/>
<circle cx="484.1" cy="241.5" r="2.3" fill="none" stroke="#b5173c" stroke-width="1.0"/>
<circle cx="484.1" cy="258.9" r="2.3" fill="none" stroke="#b5173c" stroke-width="1.0"/>
<circle cx="472.6" cy="268.6" r="2.3" fill="none" stroke="#b5173c" stroke-width="1.0"/>
<circle cx="484.1" cy="268.6" r="2.3" fill="none" stroke="#b5173c" stroke-width="1.0"/>
<circle cx="484.1" cy="276.3" r="2.3" fill="none" stroke="#b5173c" stroke-width="1.0"/>
<circle cx="495.6" cy="282.3" r="2.3" fill="none" stroke="#b5173c" stroke-width="1.0"/>
<circle cx="484.1" cy="286.3" r="2.3" fill="none" stroke="#b5173c" stroke-width="1.0"/>
<circle cx="484.1" cy="297" r="2.3" fill="none" stroke="#b5173c" stroke-width="1.0"/>
<circle cx="472.4" cy="307.5" r="2.3" fill="none" stroke="#b5173c" stroke-width="1.0"/>
<circle cx="495.5" cy="307.5" r="2.3" fill="none" stroke="#b5173c" stroke-width="1.0"/>
<text transform="translate(361.3,338.2) rotate(-45)" text-anchor="end" font-size="8.6" textLength="20.8" lengthAdjust="spacingAndGlyphs" fill="#222">fga<tspan font-size="5.8" dy="-3">+/+</tspan></text>
<text transform="translate(403.7,338.2) rotate(-45)" text-anchor="end" font-size="8.6" textLength="18.8" lengthAdjust="spacingAndGlyphs" fill="#222">fga<tspan font-size="5.8" dy="-3">-/-</tspan></text>
<text transform="translate(445.8,338.2) rotate(-45)" text-anchor="end" font-size="8.6" textLength="38" lengthAdjust="spacingAndGlyphs" fill="#222">fga<tspan font-size="5.8" dy="-3">-/-</tspan><tspan dy="3"> + A<tspan font-family="Liberation Serif" font-style="italic">&#945;</tspan></tspan></text>
<text transform="translate(488.40000000000003,338.2) rotate(-45)" text-anchor="end" font-size="8.6" textLength="42.5" lengthAdjust="spacingAndGlyphs" fill="#222">fga<tspan font-size="5.8" dy="-3">-/-</tspan><tspan dy="3"> + A<tspan font-family="Liberation Serif" font-style="italic">&#945;</tspan>E</tspan></text>
</svg>
</body></html>
